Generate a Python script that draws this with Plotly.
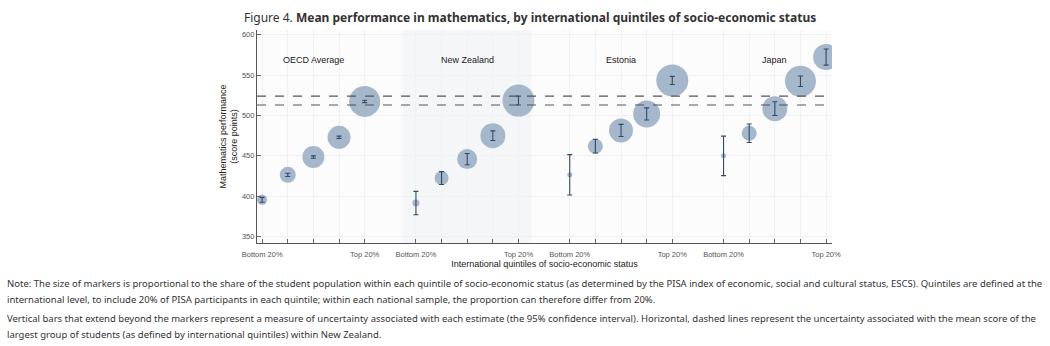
import plotly.graph_objects as go

countries = ["OECD Average", "New Zealand", "Estonia", "Japan"]
quintile_labels = ["Bottom 20%", "", "", "", "Top 20%"]

mean_oecd = [395.5, 426.5, 448.5, 473, 517.5]
ci_oecd = [3, 2, 1.5, 1.5, 1.5]
share_oecd = [10, 16, 22, 23, 31]

mean_nz = [391.5, 422.5, 446, 475, 518.5]
ci_nz = [14.5, 8, 7, 6, 5.5]
share_nz = [7, 14, 20, 25, 32]

mean_est = [426.5, 462, 481.5, 502, 543.5]
ci_est = [25, 8.5, 7.5, 7.5, 5]
share_est = [5, 15, 24, 27, 32]

mean_jpn = [450, 478, 508.5, 542.5, 572.5]
ci_jpn = [24.5, 11.5, 8.5, 6.5, 10]
share_jpn = [5, 15, 25, 31, 26]

nz_band = [513, 524]

means = [mean_oecd, mean_nz, mean_est, mean_jpn]
cis = [ci_oecd, ci_nz, ci_est, ci_jpn]
shares = [share_oecd, share_nz, share_est, share_jpn]

fig = go.Figure()
tickvals, ticktext = [], []
for g, (m, c, s) in enumerate(zip(means, cis, shares)):
    xs = [g * 6 + i for i in range(5)]
    tickvals += xs
    ticktext += quintile_labels
    fig.add_trace(go.Scatter(
        x=xs, y=m, mode="markers",
        marker=dict(size=s, sizemode="diameter", sizeref=1,
                    color="rgb(160,179,200)", opacity=0.95, line=dict(width=0)),
        showlegend=False, hoverinfo="x+y",
    ))
for g, (m, c) in enumerate(zip(means, cis)):
    xs = [g * 6 + i for i in range(5)]
    fig.add_trace(go.Scatter(
        x=xs, y=m, mode="markers",
        marker=dict(size=1, color="rgba(0,0,0,0)"),
        error_y=dict(type="data", array=c, visible=True, color="#2f4b66",
                     thickness=1.1, width=2.5),
        showlegend=False, hoverinfo="skip",
    ))

# New Zealand shaded band
fig.add_shape(type="rect", xref="x", yref="paper", x0=5.5, x1=10.5, y0=0, y1=1,
              fillcolor="rgba(228,233,240,0.3)", line=dict(width=0), layer="below")
for v in nz_band:
    fig.add_shape(type="line", xref="paper", yref="y", x0=0, x1=1, y0=v, y1=v,
                  line=dict(color="#555555", width=1.1, dash="dash"), layer="above")

for g, name in enumerate(countries):
    fig.add_annotation(x=g * 6 + 2, y=569, xref="x", yref="y", text=name, showarrow=False,
                       font=dict(family="Liberation Sans", size=9, color="#222"))

fig.add_annotation(xref="paper", yref="paper", x=(530 - 257) / 575, y=1 + 13 / 213,
                   xanchor="center", yanchor="middle", showarrow=False,
                   text="Figure 4. <b>Mean performance in mathematics, by international quintiles of socio-economic status</b>",
                   font=dict(family="Noto Sans", size=12, color="#333"))

notes = [
    (283, "Note: The size of markers is proportional to the share of the student population within each quintile of socio-economic status (as determined by the PISA index of economic, social and cultural status, ESCS). Quintiles are defined at the"),
    (299, "international level, to include 20% of PISA participants in each quintile; within each national sample, the proportion can therefore differ from 20%."),
    (318, "Vertical bars that extend beyond the markers represent a measure of uncertainty associated with each estimate (the 95% confidence interval). Horizontal, dashed lines represent the uncertainty associated with the mean score of the"),
    (334, "largest group of students (as defined by international quintiles) within New Zealand."),
]
for py, t in notes:
    fig.add_annotation(xref="paper", yref="paper", x=(5 - 257) / 575, y=(243 - py) / 213,
                       xanchor="left", yanchor="middle", showarrow=False, align="left",
                       text=t, font=dict(family="Noto Sans", size=9.5, color="#333"))

fig.update_layout(
    width=1050, height=346,
    margin=dict(l=257, r=218, t=30, b=103),
    paper_bgcolor="white", plot_bgcolor="#fcfcfd",
    font=dict(family="Liberation Sans", size=8, color="#555"),
    xaxis=dict(range=[-0.2, 22.23], tickvals=tickvals, ticktext=ticktext,
               ticks="inside", ticklen=4, tickcolor="#666", showline=True,
               linecolor="#555", linewidth=1.2, showgrid=True, gridcolor="#f0f1f3",
               zeroline=False, tickfont=dict(size=7.5, color="#555"),
               title=dict(text="International quintiles of socio-economic status",
                          font=dict(size=9, color="#222"), standoff=2)),
    yaxis=dict(range=[342, 606], tickvals=[350, 400, 450, 500, 550, 600],
               ticks="inside", ticklen=4, tickcolor="#666", showline=True,
               linecolor="#555", linewidth=1.2, showgrid=True, gridcolor="#f0f1f3",
               zeroline=False, tickfont=dict(size=7.5, color="#555"),
               title=dict(text="Mathematics performance<br>(score points)",
                          font=dict(size=9, color="#222"), standoff=2)),
)
fig.update_xaxes(ticklabelstandoff=4)

fig.write_html("out.html")
